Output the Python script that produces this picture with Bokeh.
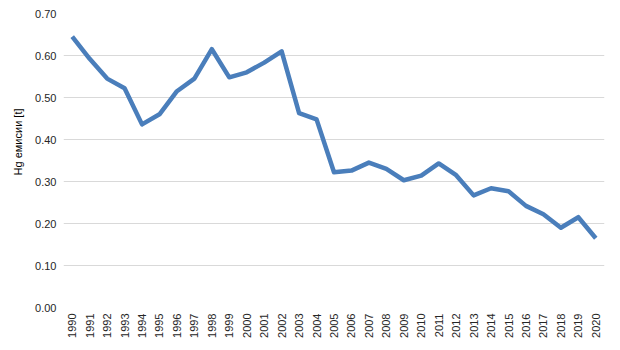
import math
from bokeh.plotting import figure
from bokeh.models import FactorRange, Range1d, FixedTicker, NumeralTickFormatter, ColumnDataSource, Title
from bokeh.embed import file_html
from bokeh.resources import INLINE

years = [str(y) for y in range(1990, 2021)]
hg_emissions = [0.645, 0.592, 0.545, 0.522, 0.436, 0.460, 0.515, 0.545, 0.615, 0.548,
                0.560, 0.583, 0.610, 0.463, 0.448, 0.322, 0.326, 0.345, 0.330, 0.303,
                0.314, 0.343, 0.315, 0.267, 0.284, 0.277, 0.242, 0.222, 0.190, 0.215,
                0.165]
y_ticks = [0.0, 0.1, 0.2, 0.3, 0.4, 0.5, 0.6, 0.7]
y_label = "Hg емисии [t]"

src = ColumnDataSource(dict(x=years, y=hg_emissions))

p = figure(x_range=FactorRange(*years), y_range=Range1d(0, 0.7),
           frame_width=541, frame_height=294,
           min_border_left=63, min_border_top=13, min_border_right=10, min_border_bottom=5,
           output_backend="svg", toolbar_location=None)
p.outline_line_color = None
p.background_fill_color = "white"

p.line("x", "y", source=src, line_color="#4a7ebb", line_width=4.5, line_join="round")

font = "Liberation Sans"
p.yaxis.ticker = FixedTicker(ticks=y_ticks)
p.yaxis.formatter = NumeralTickFormatter(format="0.00")

ylab = Title(text=y_label, align="right", offset=95, standoff=17,
             text_font=font, text_font_size="11px", text_font_style="normal",
             text_color="#000000")
p.add_layout(ylab, "left")

for ax in (p.xaxis, p.yaxis):
    ax.axis_line_color = None
    ax.major_tick_line_color = None
    ax.minor_tick_line_color = None
    ax.major_tick_in = 0
    ax.major_tick_out = 0
    ax.major_label_text_font = font
    ax.major_label_text_font_size = "11px"
    ax.major_label_text_color = "#262626"

p.yaxis.major_label_standoff = 7
p.xaxis.major_label_standoff = 6
p.xaxis.major_label_orientation = math.pi / 2

p.xgrid.grid_line_color = None
p.ygrid.grid_line_color = "#d9d9d9"
p.ygrid.grid_line_width = 1

open("out.html", "w").write(file_html(p, INLINE))
